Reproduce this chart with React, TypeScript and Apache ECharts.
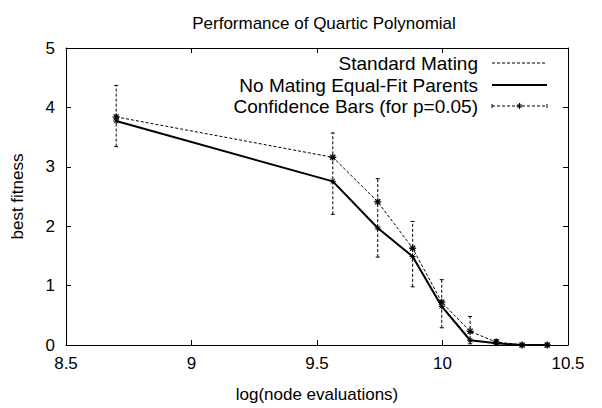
import React, { useEffect, useRef } from "react";
import * as echarts from "echarts";

const xValues = [8.7, 9.563, 9.742, 9.881, 9.997, 10.11, 10.214, 10.317, 10.417];
const standardMating = [3.84, 3.16, 2.41, 1.63, 0.72, 0.23, 0.05, 0.0, 0.0];
const noMating = [3.77, 2.755, 1.97, 1.49, 0.65, 0.08, 0.03, 0.0, 0.0];
const barLow = [3.34, 2.2, 1.48, 0.98, 0.29, 0.02, 0.0, 0.0, 0.0];
const barHigh = [4.37, 3.57, 2.8, 2.08, 1.1, 0.48, 0.09, 0.02, 0.02];

const seriesNames = [
  "Standard Mating",
  "No Mating Equal-Fit Parents",
  "Confidence Bars (for p=0.05)",
];

const FONT = "Liberation Sans, Arial, Helvetica, sans-serif";
const DASH = [3, 2];
const AXIS_FONT = 17;
const LEGEND_FONT = 19;

function star(cx: number, cy: number, r: number, w: number) {
  const d = r * 0.72;
  const segs = [
    [cx - r, cy, cx + r, cy],
    [cx, cy - r, cx, cy + r],
    [cx - d, cy - d, cx + d, cy + d],
    [cx - d, cy + d, cx + d, cy - d],
  ];
  return segs.map((s) => ({
    type: "line",
    shape: { x1: s[0], y1: s[1], x2: s[2], y2: s[3] },
    style: { stroke: "#000", lineWidth: w },
  }));
}

export default function App() {
  const ref = useRef<HTMLDivElement>(null);
  useEffect(() => {
    if (!ref.current) return;
    const chart = echarts.init(ref.current, undefined, { renderer: "svg" });
    const stdData = xValues.map((x, i) => [x, standardMating[i]]);
    const nmData = xValues.map((x, i) => [x, noMating[i]]);
    const barData = xValues.map((x, i) => [x, barLow[i], barHigh[i], standardMating[i], noMating[i]]);

    const axisCommon = {
      axisLine: { show: true, onZero: false, lineStyle: { color: "#000", width: 1 } },
      axisTick: { show: true, inside: true, length: 5, lineStyle: { color: "#000" } },
      splitLine: { show: false },
    };

    const legendY = [63, 85, 106];
    const lx1 = 492;
    const lx2 = 547;
    const legendGraphics: any[] = [];
    seriesNames.forEach((n, i) => {
      legendGraphics.push({
        type: "text",
        x: 478,
        y: legendY[i],
        style: {
          text: n,
          font: `${LEGEND_FONT}px ${FONT}`,
          fill: "#000",
          textAlign: "right",
          textVerticalAlign: "middle",
        },
      });
    });
    legendGraphics.push({
      type: "line",
      shape: { x1: lx1, y1: legendY[0], x2: lx2, y2: legendY[0] },
      style: { stroke: "#000", lineWidth: 1, lineDash: DASH },
    });
    legendGraphics.push({
      type: "line",
      shape: { x1: lx1, y1: legendY[1], x2: lx2, y2: legendY[1] },
      style: { stroke: "#000", lineWidth: 2 },
    });
    legendGraphics.push({
      type: "line",
      shape: { x1: lx1, y1: legendY[2], x2: lx2, y2: legendY[2] },
      style: { stroke: "#000", lineWidth: 1, lineDash: DASH },
    });
    [lx1, lx2].forEach((x) =>
      legendGraphics.push({
        type: "line",
        shape: { x1: x, y1: legendY[2] - 2, x2: x, y2: legendY[2] + 2 },
        style: { stroke: "#000", lineWidth: 1 },
      })
    );
    legendGraphics.push({
      type: "group",
      children: star((lx1 + lx2) / 2, legendY[2], 3, 1),
    });

    chart.setOption({
      animation: false,
      backgroundColor: "#fff",
      title: {
        text: "Performance of Quartic Polynomial",
        left: 319,
        top: 10,
        textAlign: "center",
        textStyle: { fontFamily: FONT, fontSize: AXIS_FONT, fontWeight: "normal", color: "#000" },
      },
      grid: { left: 66, right: 34, top: 48, bottom: 61, containLabel: false },
      xAxis: [
        {
          type: "value",
          min: 8.5,
          max: 10.5,
          interval: 0.5,
          ...axisCommon,
          position: "bottom",
          name: "log(node evaluations)",
          nameLocation: "middle",
          nameGap: 41,
          nameTextStyle: { fontFamily: FONT, fontSize: AXIS_FONT, color: "#000" },
          axisLabel: { fontFamily: FONT, fontSize: AXIS_FONT, color: "#000", margin: 10 },
        },
        {
          type: "value",
          min: 8.5,
          max: 10.5,
          interval: 0.5,
          ...axisCommon,
          position: "top",
          axisLabel: { show: false },
        },
      ],
      yAxis: [
        {
          type: "value",
          min: 0,
          max: 5,
          interval: 1,
          ...axisCommon,
          position: "left",
          name: "best fitness",
          nameLocation: "middle",
          nameGap: 40,
          nameTextStyle: { fontFamily: FONT, fontSize: AXIS_FONT, color: "#000" },
          axisLabel: { fontFamily: FONT, fontSize: AXIS_FONT, color: "#000", margin: 11 },
        },
        {
          type: "value",
          min: 0,
          max: 5,
          interval: 1,
          ...axisCommon,
          position: "right",
          axisLabel: { show: false },
        },
      ],
      series: [
        {
          name: seriesNames[0],
          type: "line",
          data: stdData,
          symbol: "none",
          lineStyle: { color: "#000", width: 1, type: DASH },
          z: 3,
        },
        {
          name: seriesNames[1],
          type: "line",
          data: nmData,
          symbol: "none",
          lineStyle: { color: "#000", width: 2 },
          z: 4,
        },
        {
          name: seriesNames[2],
          type: "custom",
          data: barData,
          z: 5,
          renderItem: (params: any, api: any) => {
            const x = api.value(0);
            const lo = api.coord([x, api.value(1)]);
            const hi = api.coord([x, api.value(2)]);
            const s = api.coord([x, api.value(3)]);
            const n = api.coord([x, api.value(4)]);
            const cap = 2;
            return {
              type: "group",
              children: [
                {
                  type: "line",
                  shape: { x1: lo[0], y1: lo[1], x2: hi[0], y2: hi[1] },
                  style: { stroke: "#000", lineWidth: 1, lineDash: DASH },
                },
                {
                  type: "line",
                  shape: { x1: lo[0] - cap, y1: lo[1], x2: lo[0] + cap, y2: lo[1] },
                  style: { stroke: "#000", lineWidth: 1 },
                },
                {
                  type: "line",
                  shape: { x1: hi[0] - cap, y1: hi[1], x2: hi[0] + cap, y2: hi[1] },
                  style: { stroke: "#000", lineWidth: 1 },
                },
                ...star(s[0], s[1], 3.5, 1.3),
                ...star(n[0], n[1], 3, 1),
              ],
            };
          },
        },
      ],
      graphic: legendGraphics,
    });
    return () => chart.dispose();
  }, []);
  return (
    <div
      ref={ref}
      style={{ position: "fixed", left: 0, top: 0, width: 602, height: 408, background: "#fff" }}
    />
  );
}
